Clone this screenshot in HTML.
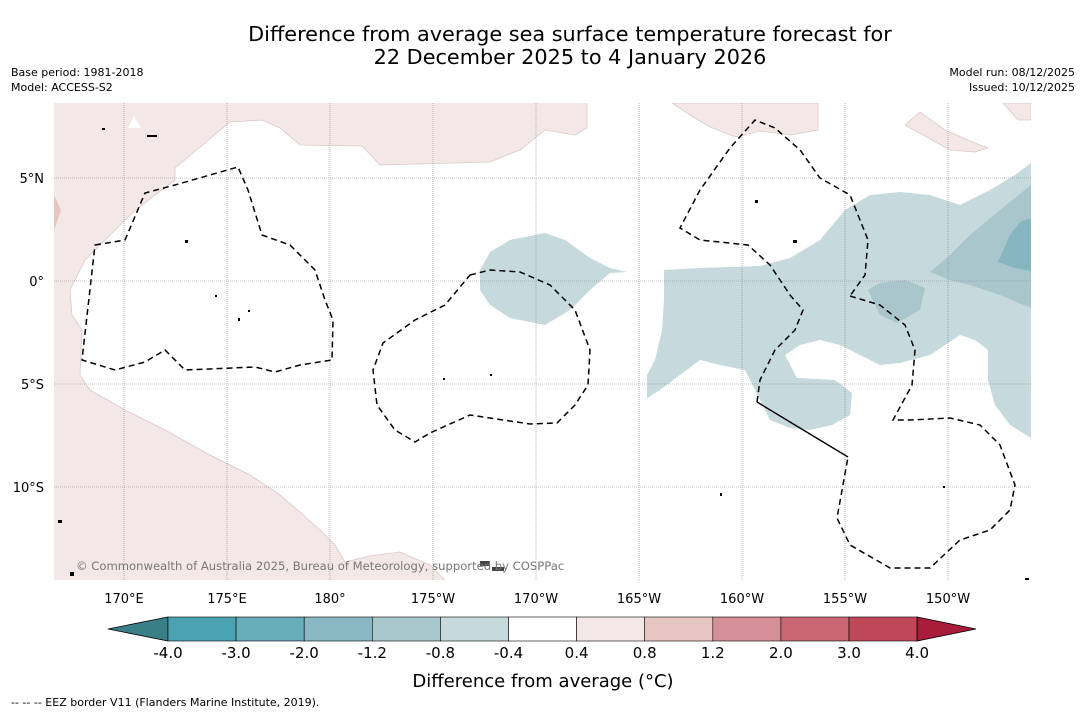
<!DOCTYPE html>
<html><head><meta charset="utf-8"><style>
body{margin:0;background:#fff;font-family:"DejaVu Sans","Liberation Sans",sans-serif;}
svg text{font-family:"DejaVu Sans","Liberation Sans",sans-serif;}
</style></head><body>
<svg id="chart" width="1085" height="713" viewBox="0 0 1085 713">
<rect width="1085" height="713" fill="#fff"/>
<text x="570" y="41" text-anchor="middle" font-size="20.8">Difference from average sea surface temperature forecast for</text>
<text x="570" y="64" text-anchor="middle" font-size="20.8">22 December 2025 to 4 January 2026</text>
<text x="11" y="76" font-size="11">Base period: 1981-2018</text>
<text x="11" y="91" font-size="11">Model: ACCESS-S2</text>
<text x="1075" y="76" font-size="11" text-anchor="end">Model run: 08/12/2025</text>
<text x="1075" y="91" font-size="11" text-anchor="end">Issued: 10/12/2025</text>
<g id="map">
<clipPath id="mc"><rect x="54" y="103" width="977" height="477"/></clipPath>
<g clip-path="url(#mc)">
<path fill="#f4e8e6" d="M54,103 L1031,103 L1031,580 L54,580 Z"/>
<path fill="#fff" stroke="#d9c9c7" stroke-width="0.8" d="M230,122 L262,120 L280,128 L300,145 L362,146 L380,165 L490,162 L520,150 L545,130 L575,135 L587,128 L587,98 L1040,98 L1040,590 L445,590 L445,580 L430,565 L400,552 L370,556 L345,562 L335,545 L320,530 L300,512 L280,495 L250,475 L210,455 L165,430 L125,410 L90,390 L80,375 L82,330 L72,315 L70,290 L75,280 L85,260 L110,235 L130,215 L155,195 L175,180 L175,168 Z"/>
<path fill="#f4e8e6" stroke="#d9c9c7" stroke-width="0.8" d="M672,103 L690,115 L710,127 L735,137 L760,131 L790,135 L818,130 L818,103 Z"/>
<path fill="#f4e8e6" stroke="#d9c9c7" stroke-width="0.8" d="M905,125 L920,112 L945,130 L975,143 L988,148 L975,152 L950,150 Z"/>
<path fill="#f4e8e6" stroke="#d9c9c7" stroke-width="0.8" d="M1003,103 L1018,120 L1031,120 L1031,103 Z"/>
<path fill="#fff" d="M128,128 L134,116 L141,128 Z"/>
<path fill="#e6c4c0" d="M54,195 L61,210 L54,230 Z"/>
<path fill="#c6d9dd" d="M480,270 L490,252 L510,240 L545,233 L565,240 L590,258 L610,268 L627,272 L610,273 L590,290 L570,310 L545,325 L510,318 L490,305 L480,290 Z"/>
<path fill="#c6d9dd" d="M664,270 L700,268 L760,266 L790,258 L820,240 L845,210 L870,195 L900,192 L930,195 L960,205 L990,190 L1015,175 L1031,163 L1031,438 L1010,425 L995,405 L988,380 L988,350 L975,340 L960,335 L945,345 L930,355 L900,363 L880,365 L860,355 L840,345 L820,340 L800,345 L785,355 L797,378 L835,380 L852,393 L850,415 L832,425 L810,430 L790,428 L770,420 L760,400 L745,370 L720,365 L700,360 L680,375 L660,390 L647,398 L647,375 L655,360 L662,330 L664,300 Z"/>
<path fill="#a8c6cb" d="M930,272 L950,255 L970,235 L1000,210 L1031,185 L1031,308 L1000,295 L970,285 L950,280 Z M868,290 L880,283 L905,280 L925,288 L920,310 L897,323 L880,315 Z"/>
<path fill="#87b6c0" d="M998,262 L1010,235 L1020,222 L1031,218 L1031,271 L1015,268 Z"/>
<g id="grid"></g>
<g fill="none" stroke="#000" stroke-width="1.5" stroke-dasharray="6,4">
<path d="M95,245 L125,240 L145,193 L175,185 L238,167 L248,190 L262,235 L290,245 L315,270 L325,300 L333,320 L332,360 L300,365 L275,372 L255,367 L185,370 L165,350 L145,362 L115,370 L82,360 Z"/>
<path d="M470,275 L490,270 L520,272 L550,285 L575,310 L590,350 L588,385 L575,405 L557,423 L530,424 L470,415 L430,433 L415,442 L395,430 L377,405 L373,370 L383,343 L415,320 L445,305 Z"/>
<path d="M757,402 L760,380 L775,350 L795,330 L803,310 L790,295 L770,265 L748,245 L700,240 L680,228 L700,190 L730,148 L755,120 L775,128 L800,150 L820,178 L850,195 L868,240 L865,275 L850,296"/>
<path d="M850,296 L880,305 L905,325 L915,350 L912,385 L893,420 L910,420 L950,418 L980,425 L1000,445 L1015,485 L1010,510 L990,530 L960,540 L930,568 L890,568 L850,545 L837,518 L848,457"/>
</g>
<path d="M848,457 L757,402" stroke="#000" stroke-width="1.4" fill="none"/>
<g fill="#000">
<rect x="185" y="240" width="3" height="3"/><rect x="215" y="295" width="2" height="2"/><rect x="238" y="318" width="2" height="3"/><rect x="248" y="310" width="2" height="2"/><rect x="443" y="378" width="2" height="2"/><rect x="490" y="374" width="2" height="2"/><rect x="755" y="200" width="3" height="3"/><rect x="793" y="240" width="4" height="3"/><rect x="720" y="493" width="2" height="3"/><rect x="58" y="520" width="4" height="3"/><rect x="70" y="572" width="4" height="4"/><rect x="480" y="561" width="10" height="5" fill="#444"/><rect x="492" y="567" width="12" height="4" fill="#444"/><rect x="943" y="486" width="2" height="2"/><rect x="1025" y="578" width="4" height="2"/><rect x="102" y="128" width="3" height="2"/><rect x="147" y="135" width="10" height="2"/>
</g>
<text x="76" y="570" font-size="11.6" fill="#777">© Commonwealth of Australia 2025, Bureau of Meteorology, supported by COSPPac</text>
</g>
</g>
<g id="xticks"></g><g id="yticks"></g>
<g id="colorbar"></g>
<text x="543" y="687" text-anchor="middle" font-size="18">Difference from average (°C)</text>
<text x="11" y="706" font-size="11">--  --  -- EEZ border V11 (Flanders Marine Institute, 2019).</text>
</svg>
<script>
const lonTicks=[170,175,180,185,190,195,200,205,210];
const lonLabels=["170°E","175°E","180°","175°W","170°W","165°W","160°W","155°W","150°W"];
const latTicks=[5,0,-5,-10];
const latLabels=["5°N","0°","5°S","10°S"];
const levels=[-4.0,-3.0,-2.0,-1.2,-0.8,-0.4,0.4,0.8,1.2,2.0,3.0,4.0];
const levelLabels=["-4.0","-3.0","-2.0","-1.2","-0.8","-0.4","0.4","0.8","1.2","2.0","3.0","4.0"];
const binColors=["#4aa2b2","#68adba","#89b8c3","#a9c8cc","#c6dadd","#ffffff","#f4e8e6","#e7c5c0","#d59097","#c96872","#be4858"];
const NS="http://www.w3.org/2000/svg";
const xScale=lon=>124+(lon-170)*20.6;
const yScale=lat=>281-lat*20.6;
const cbX=i=>168+i*68.1;
function mk(t,a,p){const e=document.createElementNS(NS,t);for(const k in a)e.setAttribute(k,a[k]);p.appendChild(e);return e;}
const grid=document.getElementById('grid'),xt=document.getElementById('xticks'),yt=document.getElementById('yticks'),cb=document.getElementById('colorbar');
lonTicks.forEach((lon,i)=>{const x=xScale(lon);
const l=mk('line',{x1:x,x2:x,y1:103,y2:580,stroke:'#888','stroke-width':0.6,'stroke-dasharray':'1,1'},grid);


const t=mk('text',{x:x,y:603,'text-anchor':'middle','font-size':13},xt);t.textContent=lonLabels[i];

});
latTicks.forEach((lat,i)=>{const y=yScale(lat);
const l=mk('line',{x1:54,x2:1031,y1:y,y2:y,stroke:'#888','stroke-width':0.6,'stroke-dasharray':'1,1'},grid);


const t=mk('text',{x:44,y:y+5,'text-anchor':'end','font-size':13},yt);t.textContent=latLabels[i];

});
const lt=mk('polygon',{points:`${cbX(0)},617 ${cbX(0)},641 108,629`,fill:'#3a7f88',stroke:'#000','stroke-width':0.8},cb);


binColors.forEach((c,i)=>{const r=mk('rect',{x:cbX(i),y:617,width:cbX(i+1)-cbX(i),height:24,fill:c,stroke:'#000','stroke-width':0.6},cb);

});
const n=levels.length-1;
const rt=mk('polygon',{points:`${cbX(n)},617 ${cbX(n)},641 976,629`,fill:'#a81d3a',stroke:'#000','stroke-width':0.8},cb);


levels.forEach((v,i)=>{const t=mk('text',{x:cbX(i),y:658,'text-anchor':'middle','font-size':15},cb);t.textContent=levelLabels[i];

});
</script>
</body></html>
